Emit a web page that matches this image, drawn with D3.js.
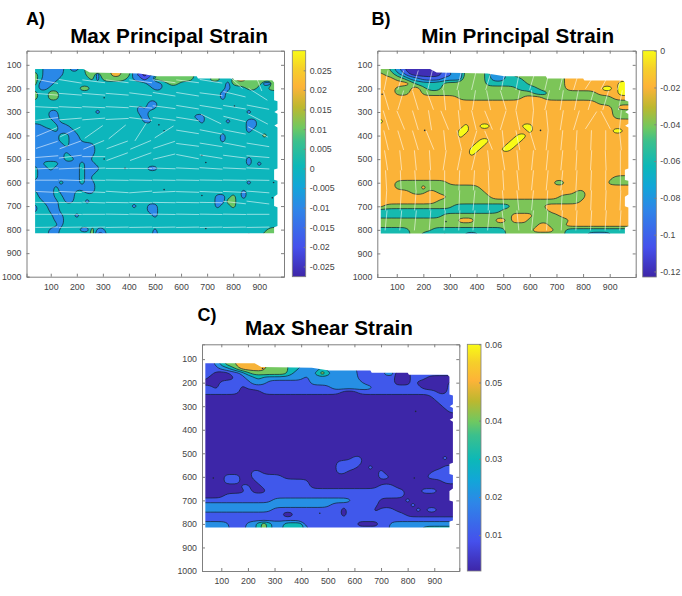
<!DOCTYPE html>
<html>
<head>
<meta charset="utf-8">
<script src="https://cdn.jsdelivr.net/npm/d3@7"></script>
<style>
  body { margin: 0; background: #fff; }
  text { font-family: "Liberation Sans", Arial, sans-serif; }
</style>
</head>
<body>
<svg id="chart" width="682" height="596"></svg>
<script>
const width = 682;
const height = 596;

// grid the strain fields were read onto: 20 px steps in image coordinates
const gridX = d3.range(40, 961, 20);
const gridY = d3.range(120, 821, 20);

// edge of the measured area (shared by the three fields)
const outlineX = [40, 225, 250, 440, 505, 660, 665, 800, 805, 950, 957, 957, 970, 970, 958, 970, 970, 958, 970, 970, 957, 957, 970, 970, 957, 957, 970, 970, 957, 957, 40];
const outlineY = [118, 118, 133, 137, 148, 148, 158, 158, 166, 166, 175, 250, 255, 292, 300, 308, 350, 358, 366, 540, 545, 588, 592, 650, 660, 700, 705, 785, 790, 815, 815];

const xTicks = [100, 200, 300, 400, 500, 600, 700, 800, 900];
const yTicks = [100, 200, 300, 400, 500, 600, 700, 800, 900, 1000];

// ********** A) max principal strain **********
// each row: "column:level" break points, level indexes maxLevels
const maxLevels = [-0.0276, -0.02, -0.01, 0, 0.01, 0.02];
const maxRows = [
  "0:3 2:2 6:3 7:2 9:3 10:4 15:5 17:4 19:2 23:4 31:3",
  "0:4 1:3 2:2 6:3 10:4 12:2 13:4 15:5 17:4 19:2 20:1 21:0 22:1 23:2 24:4 31:3",
  "0:4 1:3 2:2 5:3 11:4 12:2 13:4 18:3 19:2 21:1 22:2 23:4 31:3 34:4 36:3 38:4 39:5 41:4",
  "0:4 1:2 4:3 22:2 25:3 26:4 28:3 37:2 38:4 44:2 46:4",
  "0:3 1:2 3:3 9:4 11:3 23:2 25:3 37:2 38:3 41:4 43:3 45:4",
  "0:4 1:3 3:4 5:3 36:2 37:3",
  "0:4 1:3 3:4 5:3 36:2 37:3",
  "0:3 22:2 24:3",
  "0:3 20:2 21:3 22:2 24:3",
  "0:3 3:2 5:3 12:2 13:3 20:2 22:3 41:2 42:3",
  "0:3 3:2 5:3 21:2 22:3 31:2 33:3",
  "0:3 4:2 5:3 21:2 23:3 32:2 33:3 37:2 38:3 41:2 43:3",
  "0:2 2:3 5:2 7:3 41:2 43:3",
  "0:2 4:3 5:2 8:3 41:2 42:3",
  "0:2 5:3 7:2 9:3 36:2 37:3 44:4 45:3",
  "0:2 5:3 7:2 9:3 36:2 37:3",
  "0:2 6:3 7:2 12:3",
  "0:2 12:3",
  "0:2 6:3 7:2 12:3",
  "0:2 6:3 8:2 11:3 41:2 42:3",
  "0:2 2:3 5:2 9:3 10:2 12:3 41:2 42:3 43:2 44:3",
  "0:3 1:2 3:3 4:2 9:3 10:2 13:3 22:2 24:3",
  "0:3 1:2 9:3 10:2 12:3",
  "0:3 1:2 9:3 10:2 11:3",
  "0:2 5:3 6:2 9:3 10:2 12:3 41:2 42:3",
  "0:2 4:3 5:2 12:3",
  "0:3 1:2 4:3 5:2 8:3 10:2 12:3 40:2 41:3",
  "0:3 1:2 4:3 6:2 8:3 35:2 37:3 38:4 39:3 40:2 41:3",
  "0:3 2:2 5:3 6:2 8:3 10:2 11:3 35:2 37:4 39:3",
  "0:2 1:3 3:2 5:3 19:2 20:3 22:2 24:3 35:2 36:3 38:4 39:3",
  "0:2 1:3 3:2 5:3 22:2 24:3",
  "0:3 4:2 6:3 8:2 9:3 23:2 24:3",
  "0:3 4:2 6:3",
  "0:3 5:2 6:3",
  "0:3 3:2 5:3 9:2 11:4 12:2 14:3 23:2 24:3 45:4",
  "0:3 3:2 5:3 11:4 12:1 14:3 23:2 24:3 41:2 42:3 44:4"
];
const maxTicks = [-0.025, -0.02, -0.015, -0.01, -0.005, 0, 0.005, 0.01, 0.015, 0.02, 0.025];
const maxSpecks = [[305, 500], [385, 540], [515, 355], [535, 380], [305, 240], [805, 275], [680, 485], [695, 515], [535, 630], [680, 655], [695, 795], [955, 600], [950, 665]];

// quiver of the max principal direction, angle in degrees from horizontal
const maxArrowX = [85, 175, 265, 355, 445, 535, 625, 715, 805, 895];
const maxArrowY = [170, 225, 280, 330, 385, 440, 490, 540, 590, 640, 685, 735, 790];
const maxArrowAngle = [
  [-12, -10, -8, -8, -8, -8, -8, -10, -45, -70],
  [-5, -5, -5, -5, -8, -10, -10, -8, -15, -35],
  [-3, -3, -3, -3, -5, -8, -10, -10, -10, -12],
  [8, 5, 5, 3, -8, -8, -10, -28, -15, -30],
  [25, 28, 38, 42, 60, 35, -10, -12, -12, -30],
  [20, 22, 25, 22, 25, 20, -8, -10, -12, -10],
  [5, 8, 0, 22, 22, 15, -12, -10, -8, -5],
  [3, 3, 2, 0, 0, -2, -3, -4, -3, -3],
  [0, -2, -1, -1, -1, -1, -1, -1, -1, -1],
  [-3, -3, -3, -4, 5, 3, -2, -3, -3, -5],
  [-1, -1, -2, -1, -1, -1, -1, -1, -7, -8],
  [0, -1, 0, -1, -1, -1, -1, -1, -1, 0],
  [1, 1, 1, 1, 1, 1, 1, 1, 1, 1]
];

// ********** B) min principal strain **********
const minLevels = [0, -0.02, -0.04, -0.06, -0.08, -0.1, -0.12];
const minRows = [
  "0:2 2:3 3:4 4:5 5:6 12:5 13:4 16:2 20:3 21:4 24:3 26:2 35:1",
  "0:1 1:2 3:3 4:4 5:5 6:6 12:5 14:4 16:2 20:3 21:4 24:3 25:2 35:1",
  "0:1 3:2 5:3 6:4 8:5 12:4 16:2 20:3 21:4 24:3 27:2 35:1",
  "0:1 6:2 7:3 12:2 20:3 28:2 35:1 45:0",
  "0:1 3:2 6:1 8:2 9:3 12:2 26:3 30:2 35:1 42:0 44:1 45:0",
  "0:1 3:2 6:1 8:2 29:3 32:2 41:1 45:0",
  "0:1 15:2 27:1 31:2 44:1",
  "0:1 41:2",
  "0:1 44:2 45:1",
  "0:1 44:2",
  "0:1 44:2",
  "0:0 1:1",
  "0:1 16:0 17:1 19:0 21:1 27:0 29:1",
  "0:1 15:0 17:1 28:0 29:1 44:0 46:1",
  "0:1 15:0 16:1 26:0 28:1",
  "0:1 19:0 21:1 25:0 27:1",
  "0:1 18:0 20:1 24:0 26:1",
  "0:1 17:0 19:1 23:0 25:1",
  "0:1 17:0 18:1",
  "0:1",
  "0:1",
  "0:1",
  "0:1",
  "0:1 44:2",
  "0:1 3:2 13:1 33:2 35:1 43:2",
  "0:1 3:2 8:1 9:2 19:1",
  "0:1 6:2 9:1 11:2 20:1 37:2 39:1",
  "0:1 13:2 21:1 34:2 39:1",
  "0:1 11:2 38:1",
  "0:1 1:2 14:3 25:2 31:1",
  "0:3 23:2 32:1",
  "0:3 12:2 25:1 29:2 34:1",
  "0:2 15:1 18:2 22:1 24:2 25:1 28:2 36:1",
  "0:2 30:1 32:2 35:1",
  "0:3 6:2 10:3 24:2 29:1 33:2 35:3",
  "0:3 6:2 8:4 9:3 12:4 13:3 16:4 19:3 24:2 35:3 39:4 44:3"
];
const minTicks = [-0.12, -0.1, -0.08, -0.06, -0.04, -0.02, 0];
const minSpecks = [[205, 378], [640, 378], [285, 765], [45, 225]];

// quiver of the min principal direction, tilt in degrees from vertical
const minArrowX = [60, 115, 170, 225, 280, 335, 390, 445, 500, 555, 610, 665, 720, 775, 830, 885, 940];
const minArrowY = [165, 250, 335, 420, 505, 590, 675, 760];
const minArrowTilt = [
  [10, 15, 15, 12, 10, 12, 12, 15, 10, 10, 15, 12, 12, 15, 30, 25, 15],
  [-15, 15, -15, -18, -5, -5, 8, -10, -15, 10, -5, 12, 8, 10, 15, 15, 10],
  [-15, -20, -15, -8, -20, -5, -12, -20, 15, -10, 5, -5, 8, 15, 30, -25, 5],
  [-12, -15, -15, -20, -5, -12, 15, -20, -5, -10, -15, 5, 5, 3, 2, 0, -5],
  [-8, -5, -5, -3, 8, 10, 12, -5, -8, -5, 5, 5, 5, 3, 3, -2, 0],
  [-3, -2, -3, -2, 0, 2, 3, -2, -3, -5, 5, 5, 5, 3, 2, 0, 0],
  [3, 3, 4, 0, 1, 2, 5, 2, -4, -5, 5, 3, 3, 3, 2, 2, 2],
  [5, 5, 5, 4, 3, 3, 5, 5, -6, -5, 5, 3, 3, 3, 3, 3, 3]
];

// ********** C) max shear strain **********
const shearLevels = [0.0006, 0.01, 0.02, 0.03, 0.04, 0.05];
const shearRows = [
  "0:1 2:2 3:3 4:4 6:5 12:4 16:3 19:1",
  "0:1 3:2 5:3 6:4 7:5 12:4 16:3 18:2 22:3 23:2 29:1",
  "0:1 2:0 5:1 7:2 8:3 9:4 16:3 17:2 21:3 22:4 23:3 24:2 29:1 34:2 36:0 39:1",
  "0:1 1:0 6:1 8:2 10:3 11:2 19:1 20:2 29:1 36:0 39:1 42:0",
  "0:0 3:1 9:2 12:1 20:2 30:1 36:0 39:1 40:0 46:1",
  "0:1 2:0 3:1 7:0 8:1 24:2 32:1 41:0 46:1",
  "0:1 7:0 11:1 26:0 29:1 44:0 46:1",
  "0:0 43:1",
  "0:0 44:1",
  "0:0 45:1",
  "0:0 46:1",
  "0:0",
  "0:0",
  "0:0",
  "0:0",
  "0:0",
  "0:0",
  "0:0",
  "0:0",
  "0:0",
  "0:0 28:1 30:0 45:1 46:0",
  "0:0 25:1 30:0",
  "0:0 25:1 29:0 31:1 32:0 45:1",
  "0:0 9:1 11:0 25:1 27:0 33:1 34:0 43:1",
  "0:0 4:1 7:0 9:1 15:0 33:1 35:0 42:1",
  "0:0 4:1 7:0 10:1 20:0 45:1",
  "0:0 7:1 9:0 11:1 20:0 33:1 36:0",
  "0:0 8:1 9:0 12:1 38:0 41:1 44:0",
  "0:0 4:1 38:0",
  "0:1 13:2 28:1 33:0 38:1 39:0",
  "0:2 24:1 33:0 39:1 40:0",
  "0:2 13:1 26:0 27:1 32:0 33:1 36:0 40:1 41:0 42:1 44:0",
  "0:1 15:0 17:1 26:0 27:1 38:0",
  "0:1",
  "0:2 5:1 8:2 10:3 11:4 12:3 13:2 15:3 19:1 29:0 33:1 35:2",
  "0:2 5:1 8:2 10:3 11:4 12:3 13:2 15:3 19:2 20:1 35:2 41:3"
];
const shearTicks = [0.01, 0.02, 0.03, 0.04, 0.05, 0.06];
const shearSpecks = [[70, 605], [255, 140], [825, 605], [830, 322], [470, 755]];

// parula as it reads off the colorbars
const parulaStops = [0, 0.13, 0.3, 0.4, 0.49, 0.6, 0.66, 0.75, 0.84, 0.92, 1];
const parulaColors = ["#3e26a8", "#4550ec", "#2e86e8", "#12a6d8", "#0cb8b8", "#3cc08c", "#70c860", "#bcb82f", "#fdb338", "#f6cf2a", "#f9fb15"];
const parula = d3.scaleLinear().domain(parulaStops).range(parulaColors);

const svg = d3.select("#chart");
const defs = svg.append("defs");

const gradient = defs.append("linearGradient")
  .attr("id", "parula-gradient")
  .attr("x1", 0).attr("x2", 0).attr("y1", 1).attr("y2", 0);
parulaColors.forEach((c, i) => {
  gradient.append("stop").attr("offset", parulaStops[i]).attr("stop-color", c);
});

// the source figure is a soft screenshot
defs.append("filter").attr("id", "soft")
  .append("feGaussianBlur").attr("stdDeviation", 0.35);

// expand the break point rows into a flat value array, padded so the contours run past the clip
function expandRows(rows, levels, pad) {
  const n = gridX.length;
  const table = rows.map(row => {
    const cells = new Array(n);
    row.split(" ").forEach(part => {
      const [col, level] = part.split(":").map(Number);
      for (let i = col; i < n; i++) cells[i] = levels[level];
    });
    return cells;
  });
  const values = [];
  for (let j = -pad; j < table.length + pad; j++) {
    const r = table[Math.max(0, Math.min(table.length - 1, j))];
    for (let i = -pad; i < n + pad; i++) values.push(r[Math.max(0, Math.min(n - 1, i))]);
  }
  return values;
}

// take the staircase off a contour ring without eating the small ones
function relaxRing(points) {
  const n = points.length;
  if (n < 16) return points;
  return points.map((p, i) => {
    const a = points[(i + n - 1) % n];
    const b = points[(i + 1) % n];
    return [(a[0] + 2 * p[0] + b[0]) / 4, (a[1] + 2 * p[1] + b[1]) / 4];
  });
}

function drawPanel(p) {
  const x = d3.scaleLinear().domain(p.xDomain).range([p.left, p.right]);
  const y = d3.scaleLinear().domain(p.yDomain).range([p.top, p.bottom]);
  const g = svg.append("g");

  const clipId = "clip-" + p.name;
  defs.append("clipPath").attr("id", clipId)
    .append("path")
    .attr("d", d3.line().x(d => x(d[0])).y(d => y(d[1]))(d3.zip(outlineX, outlineY)) + "Z");

  const sorted = p.levels.slice().sort(d3.ascending);
  const color = d3.scaleLinear().domain(p.colorDomain).range([0, 1]);
  const field = g.append("g").attr("clip-path", `url(#${clipId})`).append("g").attr("filter", "url(#soft)");

  field.append("rect")
    .attr("x", p.left).attr("y", p.top)
    .attr("width", p.right - p.left).attr("height", p.bottom - p.top)
    .attr("fill", parula(color(sorted[0])));

  // filled contours, one band over the other
  const pad = 2;
  const thresholds = d3.pairs(sorted, (a, b) => (a + b) / 2);
  const contours = d3.contours()
    .size([gridX.length + 2 * pad, gridY.length + 2 * pad])
    .thresholds(thresholds)(expandRows(p.rows, p.levels, pad));

  const ring = d3.line()
    .x(d => x(gridX[0] + (d[0] - 0.5 - pad) * 20))
    .y(d => y(gridY[0] + (d[1] - 0.5 - pad) * 20))
    .curve(d3.curveBasisClosed);

  field.selectAll("path.band")
    .data(contours)
    .join("path")
    .attr("class", "band")
    .attr("fill-rule", "evenodd")
    .attr("fill", (d, i) => parula(color(sorted[i + 1])))
    .attr("stroke", "#10202c")
    .attr("stroke-width", 0.7)
    .attr("d", d => d.coordinates.map(poly => poly.map(r => ring(relaxRing(r.slice(0, -1)))).join("")).join(""));

  field.selectAll("circle.speck")
    .data(p.specks)
    .join("circle")
    .attr("class", "speck")
    .attr("cx", d => x(d[0])).attr("cy", d => y(d[1]))
    .attr("r", 0.8).attr("fill", "#1a2a3a");

  // white direction lines
  if (p.arrows) {
    field.selectAll("line.arrow")
      .data(p.arrows)
      .join("line")
      .attr("class", "arrow")
      .attr("x1", d => x(d.x - d.dx / 2)).attr("y1", d => y(d.y - d.dy / 2))
      .attr("x2", d => x(d.x + d.dx / 2)).attr("y2", d => y(d.y + d.dy / 2))
      .attr("stroke", "#fff").attr("stroke-opacity", 0.7).attr("stroke-width", 0.8);
  }

  // axes, MATLAB style with ticks inside and mirrored
  const axisColor = "#7f7f7f";
  const styleAxis = a => {
    a.selectAll(".domain").attr("stroke", axisColor);
    a.selectAll(".tick line").attr("stroke", axisColor);
    a.selectAll(".tick text").attr("fill", "#444").attr("font-size", 8.8).attr("font-family", null);
    a.attr("font-family", null);
  };
  g.append("g").attr("transform", `translate(0,${p.bottom})`)
    .call(d3.axisBottom(x).tickValues(xTicks).tickSize(-3).tickPadding(7).tickFormat(d3.format("d"))).call(styleAxis);
  g.append("g").attr("transform", `translate(${p.left},0)`)
    .call(d3.axisLeft(y).tickValues(yTicks).tickSize(-3).tickPadding(5).tickFormat(d3.format("d"))).call(styleAxis);
  g.append("g").attr("transform", `translate(0,${p.top})`)
    .call(d3.axisTop(x).tickValues(xTicks).tickSize(-3).tickFormat("")).call(styleAxis);
  g.append("g").attr("transform", `translate(${p.right},0)`)
    .call(d3.axisRight(y).tickValues(yTicks).tickSize(-3).tickFormat("")).call(styleAxis);

  // colorbar
  const barScale = d3.scaleLinear().domain(p.colorDomain).range([p.bottom, p.top]);
  g.append("rect")
    .attr("x", p.barX).attr("y", p.top)
    .attr("width", p.barWidth).attr("height", p.bottom - p.top)
    .attr("fill", "url(#parula-gradient)")
    .attr("stroke", axisColor).attr("stroke-width", 0.8);
  g.append("g").attr("transform", `translate(${p.barX + p.barWidth},0)`)
    .call(d3.axisRight(barScale).tickValues(p.barTicks).tickSize(-2).tickPadding(4).tickFormat(d => String(d)))
    .call(styleAxis)
    .call(a => a.select(".domain").remove());

  // titles
  g.append("text").attr("x", p.titleX).attr("y", p.titleY)
    .attr("text-anchor", "middle").attr("font-size", 20.7).attr("font-weight", "bold").attr("fill", "#000")
    .text(p.title);
  g.append("text").attr("x", p.tagX).attr("y", p.tagY)
    .attr("font-size", 18).attr("font-weight", "bold").attr("fill", "#000")
    .text(p.tag);
}

const maxArrows = maxArrowY.flatMap((yv, r) => maxArrowX.map((xv, c) => {
  const a = maxArrowAngle[r][c] * Math.PI / 180;
  return { x: xv, y: yv, dx: 88 * Math.cos(a), dy: -88 * Math.sin(a) };
}));
const minArrows = minArrowY.flatMap((yv, r) => minArrowX.map((xv, c) => {
  const a = minArrowTilt[r][c] * Math.PI / 180;
  return { x: xv, y: yv, dx: 85 * Math.sin(a), dy: -85 * Math.cos(a) };
}));

drawPanel({
  name: "a", title: "Max Principal Strain", tag: "A)",
  titleX: 169, titleY: 42.5, tagX: 26, tagY: 25,
  left: 26.5, right: 284, top: 50.7, bottom: 276.7,
  xDomain: [7, 995], yDomain: [40, 1000],
  barX: 292.3, barWidth: 13.4, colorDomain: [-0.0276, 0.03], barTicks: maxTicks,
  levels: maxLevels, rows: maxRows, specks: maxSpecks, arrows: maxArrows
});
drawPanel({
  name: "b", title: "Min Principal Strain", tag: "B)",
  titleX: 517.7, titleY: 42.5, tagX: 371.5, tagY: 25,
  left: 377.3, right: 635.7, top: 50.7, bottom: 277,
  xDomain: [27, 997.6], yDomain: [40, 1000],
  barX: 642.7, barWidth: 13.6, colorDomain: [-0.123, 0], barTicks: minTicks,
  levels: minLevels, rows: minRows, specks: minSpecks, arrows: minArrows
});
drawPanel({
  name: "c", title: "Max Shear Strain", tag: "C)",
  titleX: 329, titleY: 334.5, tagX: 197.5, tagY: 321,
  left: 202, right: 459.3, top: 344.3, bottom: 571,
  xDomain: [27.5, 994], yDomain: [37, 1000],
  barX: 467.3, barWidth: 13.7, colorDomain: [0.0006, 0.06], barTicks: shearTicks,
  levels: shearLevels, rows: shearRows, specks: shearSpecks, arrows: null
});
</script>
</body>
</html>
